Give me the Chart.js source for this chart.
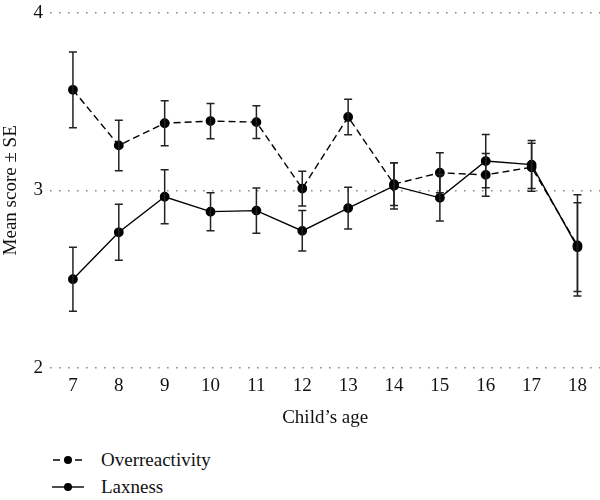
<!DOCTYPE html>
<html>
<head>
<meta charset="utf-8">
<script src="https://cdn.jsdelivr.net/npm/chart.js@4"></script>
<style>
	body { margin: 0; background: #fff; overflow: hidden; }
	#wrap { position: relative; width: 600px; height: 500px; overflow: hidden; }
	#legend { position: absolute; left: 52px; top: 446px; font-family: "Liberation Serif", serif; font-size: 19px; color: #111; }
	.item { display: flex; align-items: center; height: 27px; }
	.item svg { margin-right: 17px; }
</style>
</head>
<body>
<div id="wrap">
	<div style="width:606px;height:440px"><canvas id="myChart"></canvas></div>
	<div id="legend">
		<div class="item">
			<svg width="32" height="12"><line x1="0" y1="6" x2="32" y2="6" stroke="#000" stroke-width="1.4" stroke-dasharray="7,4" stroke-dashoffset="-1"/><circle cx="16" cy="6" r="4" fill="#000"/></svg>
			<span>Overreactivity</span>
		</div>
		<div class="item">
			<svg width="32" height="12"><line x1="0" y1="6" x2="32" y2="6" stroke="#000" stroke-width="1.4"/><circle cx="16" cy="6" r="4" fill="#000"/></svg>
			<span>Laxness</span>
		</div>
	</div>
</div>
<script>
const ages = ["7", "8", "9", "10", "11", "12", "13", "14", "15", "16", "17", "18"];
const overMeans = [3.566, 3.253, 3.378, 3.39, 3.384, 3.01, 3.413, 3.035, 3.099, 3.087, 3.13, 2.69];
const overSE = [0.213, 0.142, 0.127, 0.099, 0.092, 0.098, 0.1, 0.12, 0.113, 0.12, 0.135, 0.285];
const laxMeans = [2.5, 2.764, 2.964, 2.88, 2.886, 2.772, 2.9, 3.025, 2.958, 3.165, 3.145, 2.68];
const laxSE = [0.18, 0.158, 0.152, 0.107, 0.127, 0.114, 0.117, 0.13, 0.131, 0.15, 0.135, 0.25];
const yTicks = [2, 3, 4];

const fontFam = '"Liberation Serif", serif';

// draws the ± SE whiskers on top of each point
const errorBars = {
	id: "errorBars",
	afterDatasetsDraw(chart) {
		const ctx = chart.ctx;
		const yScale = chart.scales.y;
		const errs = [overSE, laxSE];
		chart.data.datasets.forEach((ds, d) => {
			const meta = chart.getDatasetMeta(d);
			meta.data.forEach((pt, i) => {
				const top = yScale.getPixelForValue(ds.data[i] + errs[d][i]);
				const bot = yScale.getPixelForValue(ds.data[i] - errs[d][i]);
				ctx.save();
				ctx.strokeStyle = "#222";
				ctx.lineWidth = 1.5;
				ctx.beginPath();
				ctx.moveTo(pt.x, top);
				ctx.lineTo(pt.x, bot);
				ctx.moveTo(pt.x - 4, top);
				ctx.lineTo(pt.x + 4, top);
				ctx.moveTo(pt.x - 4, bot);
				ctx.lineTo(pt.x + 4, bot);
				ctx.stroke();
				ctx.restore();
			});
		});
	},
};

const ctx = document.querySelector("#myChart").getContext("2d");
const chart = new Chart(ctx, {
	type: "line",
	data: {
		labels: ages,
		datasets: [
			{
				label: "Overreactivity",
				data: overMeans,
				borderColor: "#000",
				backgroundColor: "#000",
				borderWidth: 1.4,
				borderDash: [7, 4],
				pointRadius: 4.2,
				pointHoverRadius: 4.2,
			},
			{
				label: "Laxness",
				data: laxMeans,
				borderColor: "#000",
				backgroundColor: "#000",
				borderWidth: 1.4,
				pointRadius: 4.2,
				pointHoverRadius: 4.2,
			},
		],
	},
	options: {
		responsive: true,
		maintainAspectRatio: false,
		animation: false,
		layout: { padding: { top: 11, right: 0, bottom: 11, left: 0 } },
		plugins: { legend: { display: false }, tooltip: { enabled: false } },
		scales: {
			x: {
				offset: true,
				grid: { display: false, drawTicks: false },
				border: { display: false },
				ticks: { color: "#111", padding: 7, font: { family: fontFam, size: 19 } },
				title: { display: true, text: "Child\u2019s age", color: "#111", padding: { top: 4, bottom: 0 }, font: { family: fontFam, size: 19 } },
				afterFit: (scale) => { scale.height = 61; },
			},
			y: {
				min: 2,
				max: 4,
				afterBuildTicks: (scale) => { scale.ticks = yTicks.map((v) => ({ value: v })); },
				grid: { color: "#8a8a8a", lineWidth: 1.6, drawTicks: false },
				border: { display: false, dash: [1.6, 7.4] },
				ticks: { color: "#111", padding: 7, font: { family: fontFam, size: 19, lineHeight: 0.6 } },
				title: { display: true, text: "Mean score \u00b1 SE", color: "#111", padding: 0, font: { family: fontFam, size: 19 } },
				afterFit: (scale) => { scale.width = 50; },
			},
		},
	},
	plugins: [errorBars],
});
</script>
</body>
</html>
